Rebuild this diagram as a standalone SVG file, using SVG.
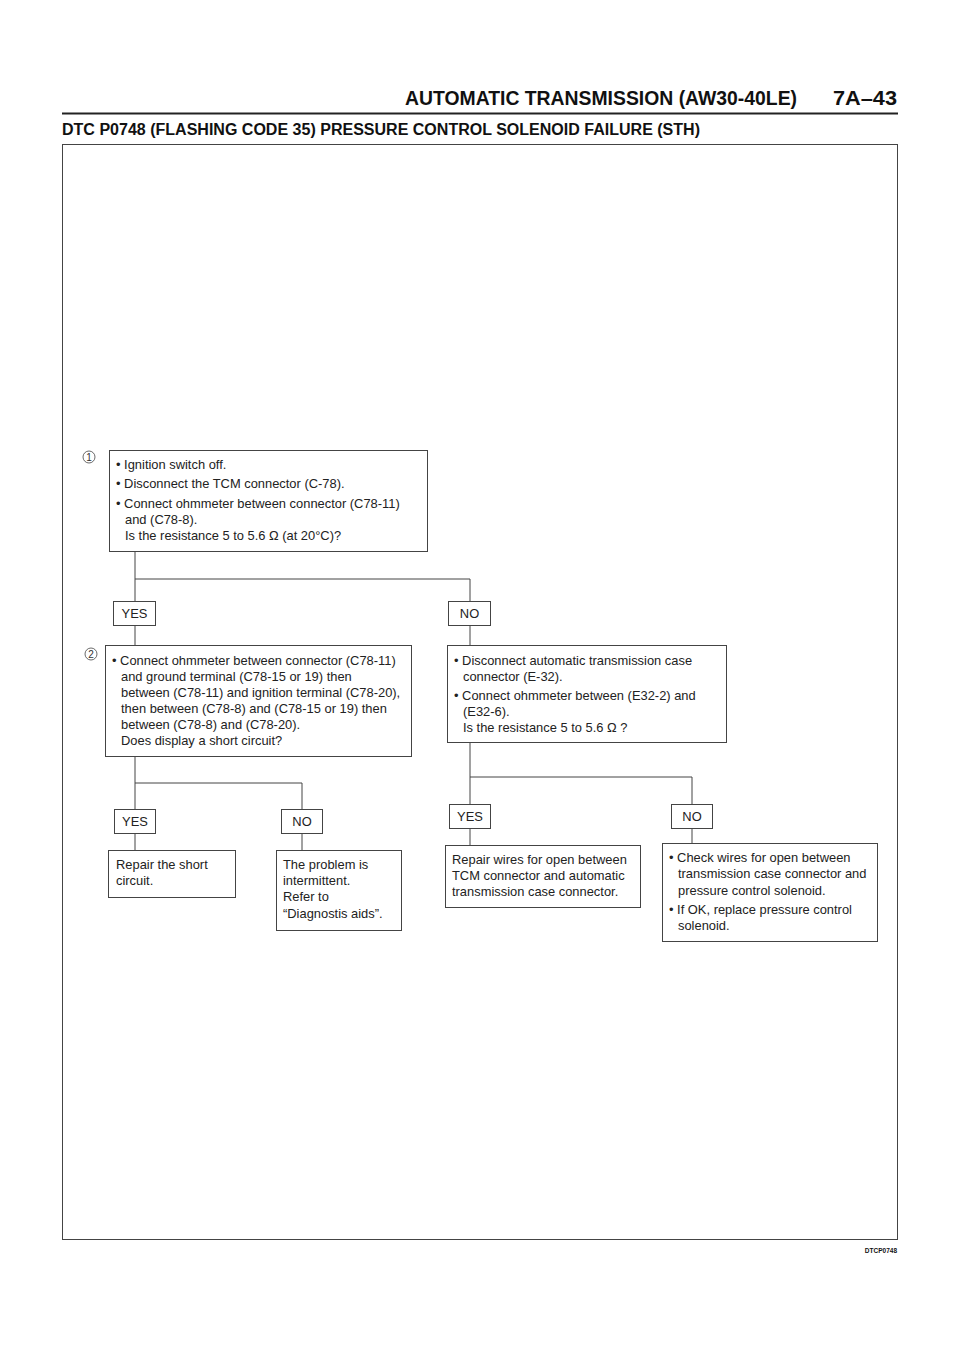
<svg xmlns="http://www.w3.org/2000/svg" width="960" height="1358" viewBox="0 0 960 1358">
<style>
.b{fill:#fff;stroke:#444;stroke-width:1}
.t{font-family:"Liberation Sans",Arial,sans-serif;font-size:12.9px;fill:#222}
.yn{font-family:"Liberation Sans",Arial,sans-serif;font-size:12.9px;fill:#222;text-anchor:middle}
.c{fill:none;stroke:#444;stroke-width:1}
.h{font-family:"Liberation Sans",Arial,sans-serif;font-weight:bold;fill:#111}
.num{font-family:"Liberation Sans",Arial,sans-serif;font-size:10px;fill:#333;text-anchor:middle}
</style>
<rect width="960" height="1358" fill="#fff"/>
<g id="header">
<text class="h" x="405" y="105" font-size="21" textLength="392" lengthAdjust="spacingAndGlyphs">AUTOMATIC TRANSMISSION (AW30-40LE)</text>
<text class="h" x="833" y="105" font-size="21" textLength="64" lengthAdjust="spacingAndGlyphs">7A–43</text>
<line x1="62" y1="113.5" x2="898" y2="113.5" stroke="#222" stroke-width="2"/>
<text class="h" x="62" y="135" font-size="16" textLength="638" lengthAdjust="spacingAndGlyphs">DTC P0748 (FLASHING CODE 35) PRESSURE CONTROL SOLENOID FAILURE (STH)</text>
<rect x="62.5" y="144.5" width="835" height="1095" fill="none" stroke="#444" stroke-width="1"/>
<text class="h" x="897" y="1253" font-size="6.5" text-anchor="end">DTCP0748</text>
</g>
<g id="connectors">
<path class="c" d="M135 552V601M135 579H470V601M135 625V645M470 625V645"/>
<path class="c" d="M135 756V809M135 783H302V809M135 833V850M302 833V850"/>
<path class="c" d="M470 742V804M470 777H692V804M470 828V845M692 828V843"/>
</g>
<g id="step1">
<circle cx="89" cy="457" r="6" fill="none" stroke="#444" stroke-width="0.8"/>
<text class="num" x="89" y="460.5">1</text>
<rect class="b" x="109.5" y="450.5" width="318" height="101"/>
<text class="t" x="116" y="469">• Ignition switch off.</text>
<text class="t" x="116" y="488">• Disconnect the TCM connector (C-78).</text>
<text class="t" x="116" y="508">• Connect ohmmeter between connector (C78-11)</text>
<text class="t" x="125" y="524">and (C78-8).</text>
<text class="t" x="125" y="540">Is the resistance 5 to 5.6 Ω (at 20°C)?</text>
</g>
<g id="yes1"><rect class="b" x="113.5" y="601.5" width="42" height="24"/><text class="yn" x="134.5" y="618">YES</text></g>
<g id="no1"><rect class="b" x="448.5" y="601.5" width="42" height="24"/><text class="yn" x="469.5" y="618">NO</text></g>
<g id="step2">
<circle cx="91" cy="654" r="6" fill="none" stroke="#444" stroke-width="0.8"/>
<text class="num" x="91" y="657.5">2</text>
<rect class="b" x="105.5" y="645.5" width="306" height="111"/>
<text class="t" x="112" y="665">• Connect ohmmeter between connector (C78-11)</text>
<text class="t" x="121" y="681">and ground terminal (C78-15 or 19) then</text>
<text class="t" x="121" y="697">between (C78-11) and ignition terminal (C78-20),</text>
<text class="t" x="121" y="713">then between (C78-8) and (C78-15 or 19) then</text>
<text class="t" x="121" y="729">between (C78-8) and (C78-20).</text>
<text class="t" x="121" y="745">Does display a short circuit?</text>
</g>
<g id="step3">
<rect class="b" x="447.5" y="645.5" width="279" height="97"/>
<text class="t" x="454" y="665">• Disconnect automatic transmission case</text>
<text class="t" x="463" y="681">connector (E-32).</text>
<text class="t" x="454" y="700">• Connect ohmmeter between (E32-2) and</text>
<text class="t" x="463" y="716">(E32-6).</text>
<text class="t" x="463" y="732">Is the resistance 5 to 5.6 Ω ?</text>
</g>
<g id="yes2"><rect class="b" x="114.5" y="809.5" width="41" height="24"/><text class="yn" x="135" y="826">YES</text></g>
<g id="no2"><rect class="b" x="281.5" y="809.5" width="41" height="24"/><text class="yn" x="302" y="826">NO</text></g>
<g id="yes3"><rect class="b" x="449.5" y="804.5" width="41" height="24"/><text class="yn" x="470" y="821">YES</text></g>
<g id="no3"><rect class="b" x="671.5" y="804.5" width="41" height="24"/><text class="yn" x="692" y="821">NO</text></g>
<g id="repairShort">
<rect class="b" x="108.5" y="850.5" width="127" height="47"/>
<text class="t" x="116" y="869">Repair the short</text>
<text class="t" x="116" y="885">circuit.</text>
</g>
<g id="intermittent">
<rect class="b" x="276.5" y="850.5" width="125" height="80"/>
<text class="t" x="283" y="869">The problem is</text>
<text class="t" x="283" y="885">intermittent.</text>
<text class="t" x="283" y="901">Refer to</text>
<text class="t" x="283" y="918">“Diagnostis aids”.</text>
</g>
<g id="repairWires">
<rect class="b" x="445.5" y="845.5" width="195" height="62"/>
<text class="t" x="452" y="864">Repair wires for open between</text>
<text class="t" x="452" y="880">TCM connector and automatic</text>
<text class="t" x="452" y="896">transmission case connector.</text>
</g>
<g id="checkWires">
<rect class="b" x="662.5" y="843.5" width="215" height="98"/>
<text class="t" x="669" y="862">• Check wires for open between</text>
<text class="t" x="678" y="878">transmission case connector and</text>
<text class="t" x="678" y="895">pressure control solenoid.</text>
<text class="t" x="669" y="914">• If OK, replace pressure control</text>
<text class="t" x="678" y="930">solenoid.</text>
</g>
</svg>
